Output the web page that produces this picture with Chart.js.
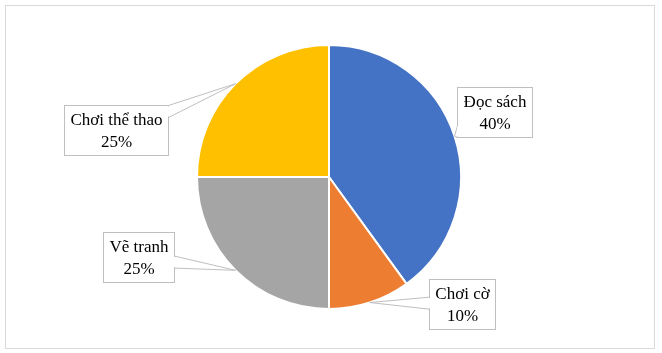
<!DOCTYPE html>
<html>
<head>
<meta charset="utf-8">
<script src="https://cdn.jsdelivr.net/npm/chart.js@4.4.1/dist/chart.umd.min.js"></script>
<style>
html,body{margin:0;padding:0;background:#fff;}
#wrap{width:662px;height:353px;position:relative;}
</style>
</head>
<body>
<div id="wrap"><canvas id="c" width="662" height="353"></canvas></div>
<script>
const categories = ['Đọc sách', 'Chơi cờ', 'Vẽ tranh', 'Chơi thể thao'];
const values = [40, 10, 25, 25];
const percentLabels = ['40%', '10%', '25%', '25%'];
const colors = ['#4472C4', '#ED7D31', '#A5A5A5', '#FFC000'];

// label box centre offsets from the slice's outer mid-point (style/layout)
const labelOffsets = [[40, -24], [92, 1], [-97, -13], [-120, 46]];

const frame = {
  id: 'frame',
  beforeDraw(chart) {
    const ctx = chart.ctx;
    ctx.save();
    ctx.fillStyle = '#fff';
    ctx.fillRect(0, 0, chart.width, chart.height);
    ctx.strokeStyle = '#D9D9D9';
    ctx.lineWidth = 1;
    ctx.strokeRect(5.5, 5.5, 649, 343);
    ctx.restore();
  }
};

const callouts = {
  id: 'callouts',
  afterDatasetsDraw(chart) {
    const ctx = chart.ctx;
    const meta = chart.getDatasetMeta(0);
    const font = '17px "Liberation Serif", "Times New Roman", serif';
    const lineH = 22, padX = 6, padY = 3;
    ctx.save();
    ctx.font = font;
    meta.data.forEach((arc, i) => {
      const p = arc.getProps(['x', 'y', 'startAngle', 'endAngle', 'outerRadius'], true);
      const mid = (p.startAngle + p.endAngle) / 2;
      const tx = p.x + Math.cos(mid) * p.outerRadius;
      const ty = p.y + Math.sin(mid) * p.outerRadius;
      const lines = [categories[i], percentLabels[i]];
      const w = Math.max(...lines.map(l => ctx.measureText(l).width)) + 2 * padX;
      const h = lines.length * lineH + 2 * padY;
      const cx = tx + labelOffsets[i][0];
      const cy = ty + labelOffsets[i][1];
      const L = Math.round(cx - w / 2) + 0.5, T = Math.round(cy - h / 2) + 0.5;
      const R = L + Math.round(w), B = T + Math.round(h);
      const dx = tx - cx, dy = ty - cy;
      let bx1, by1, bx2, by2;
      const half = 6;
      const tX = dx !== 0 ? (w / 2) / Math.abs(dx) : Infinity;
      const tY = dy !== 0 ? (h / 2) / Math.abs(dy) : Infinity;
      if (tX < tY) {
        const ex = dx > 0 ? R : L;
        let ey = cy + dy * tX;
        ey = Math.min(Math.max(ey, T + half), B - half);
        bx1 = ex; by1 = ey - half; bx2 = ex; by2 = ey + half;
      } else {
        const ey = dy > 0 ? B : T;
        let ex = cx + dx * tY;
        ex = Math.min(Math.max(ex, L + half), R - half);
        bx1 = ex - half; by1 = ey; bx2 = ex + half; by2 = ey;
      }
      ctx.fillStyle = '#fff';
      ctx.strokeStyle = '#BFBFBF';
      ctx.lineWidth = 1;
      ctx.beginPath();
      ctx.moveTo(bx1, by1); ctx.lineTo(tx, ty); ctx.lineTo(bx2, by2); ctx.closePath();
      ctx.fill();
      ctx.fillRect(L, T, R - L, B - T);
      ctx.strokeRect(L, T, R - L, B - T);
      ctx.beginPath();
      ctx.moveTo(bx1, by1); ctx.lineTo(tx, ty); ctx.lineTo(bx2, by2);
      ctx.stroke();
      ctx.strokeStyle = '#fff';
      ctx.beginPath();
      if (bx1 === bx2) { ctx.moveTo(bx1, by1 + 1); ctx.lineTo(bx2, by2 - 1); }
      else { ctx.moveTo(bx1 + 1, by1); ctx.lineTo(bx2 - 1, by2); }
      ctx.stroke();
      ctx.fillStyle = '#000';
      ctx.textAlign = 'center';
      ctx.textBaseline = 'middle';
      lines.forEach((l, k) => {
        ctx.fillText(l, (L + R) / 2, T + padY + lineH * (k + 0.5) + 1);
      });
    });
    ctx.restore();
  }
};

new Chart(document.getElementById('c'), {
  type: 'pie',
  data: {
    labels: categories,
    datasets: [{
      data: values,
      backgroundColor: colors,
      borderColor: '#fff',
      borderWidth: 2
    }]
  },
  options: {
    responsive: false,
    animation: false,
    layout: { padding: { top: 44, bottom: 43, left: 100, right: 104 } },
    plugins: { legend: { display: false }, tooltip: { enabled: false } }
  },
  plugins: [frame, callouts]
});
</script>
</body>
</html>
